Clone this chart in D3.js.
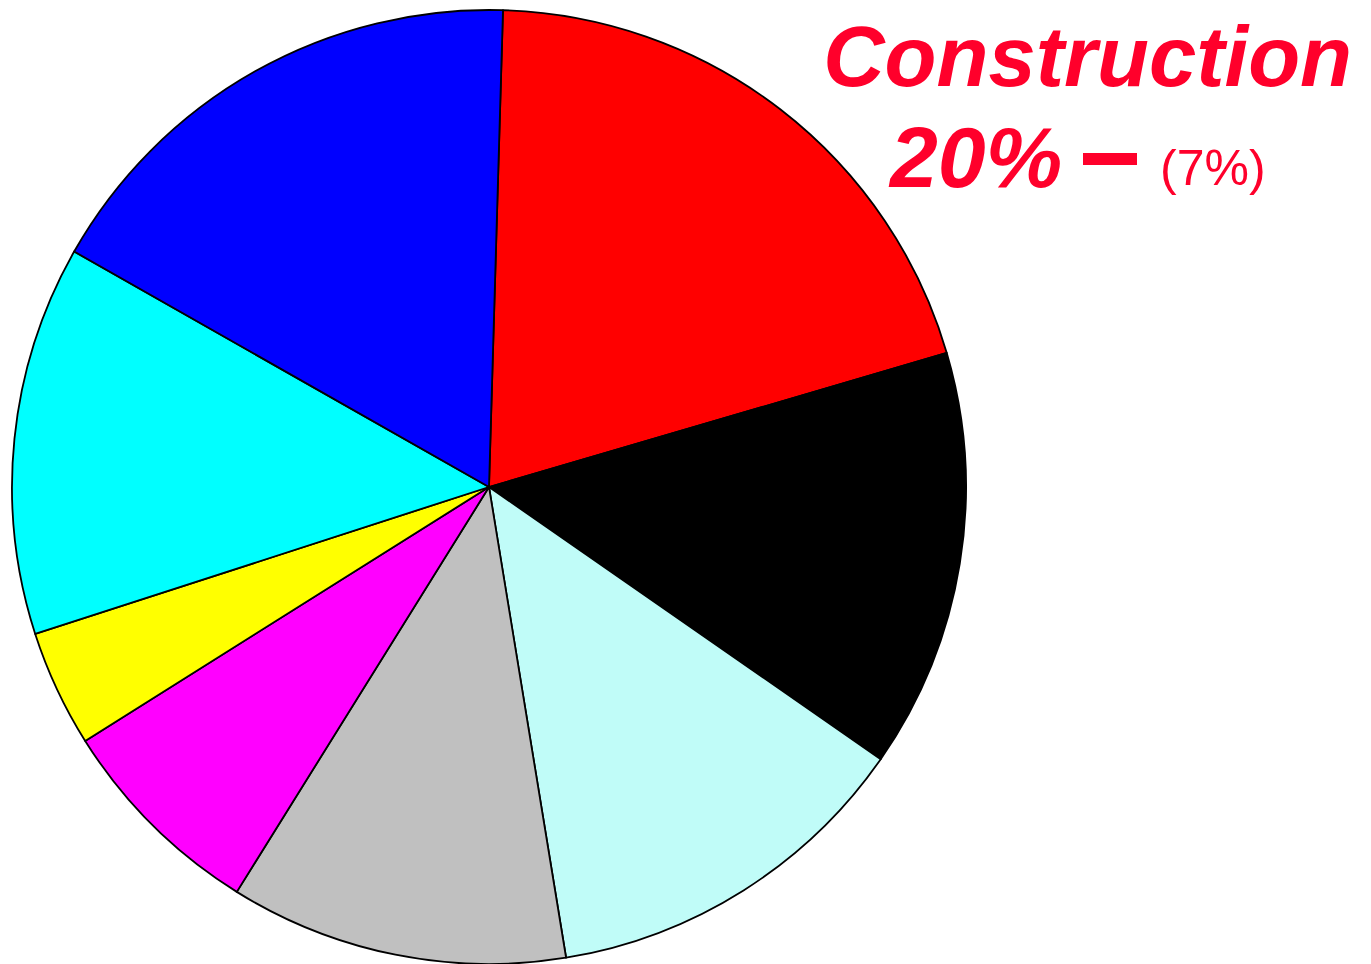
<!DOCTYPE html>
<html>
<head>
<meta charset="utf-8">
<script src="https://cdn.jsdelivr.net/npm/d3@7"></script>
<style>
  body { margin: 0; background: #fff; }
</style>
</head>
<body>
<svg width="1371" height="964"></svg>
<script>
// sectors, clockwise from just right of 12 o'clock
var sectors = ["Construction", "B", "C", "D", "E", "F", "G", "H"];
var shares = [20.0, 14.2, 12.75, 11.45, 7.2, 3.95, 13.2, 17.25];
var colors = ["#ff0000", "#000000", "#c0fcf8", "#c0c0c0", "#ff00ff", "#ffff00", "#00ffff", "#0000ff"];

var labelName = "Construction";
var labelShare = "20%";
var labelSub = "(7%)";

var svg = d3.select("svg"),
    cx = 489,
    cy = 487,
    radius = 477;

var g = svg.append("g").attr("transform", "translate(" + cx + "," + cy + ")");

var start = 1.68 * Math.PI / 180;

var pie = d3.pie()
    .sort(null)
    .value(function (d) { return d; })
    .startAngle(start)
    .endAngle(start + 2 * Math.PI);

var arc = d3.arc().innerRadius(0).outerRadius(radius);

g.selectAll("path")
    .data(pie(shares))
    .enter().append("path")
    .attr("d", arc)
    .attr("fill", function (d, i) { return colors[i]; })
    .attr("stroke", "#000")
    .attr("stroke-width", 1.8)
    .attr("stroke-linejoin", "round");

var red = "#ff002b";

svg.append("text")
    .attr("x", 1352)
    .attr("y", 86)
    .attr("text-anchor", "end")
    .style("font", "italic bold 85px 'Liberation Sans', Arial, sans-serif")
    .attr("fill", red)
    .text(labelName);

svg.append("text")
    .attr("x", 890)
    .attr("y", 187)
    .attr("fill", red)
    .style("font", "italic bold 86px 'Liberation Sans', Arial, sans-serif")
    .text(labelShare);

// the dash
svg.append("rect")
    .attr("x", 1083)
    .attr("y", 153)
    .attr("width", 54)
    .attr("height", 12)
    .attr("fill", red);

svg.append("text")
    .attr("x", 1160)
    .attr("y", 185)
    .attr("fill", red)
    .style("font", "normal 50px 'Liberation Sans', Arial, sans-serif")
    .text(labelSub);
</script>
</body>
</html>
